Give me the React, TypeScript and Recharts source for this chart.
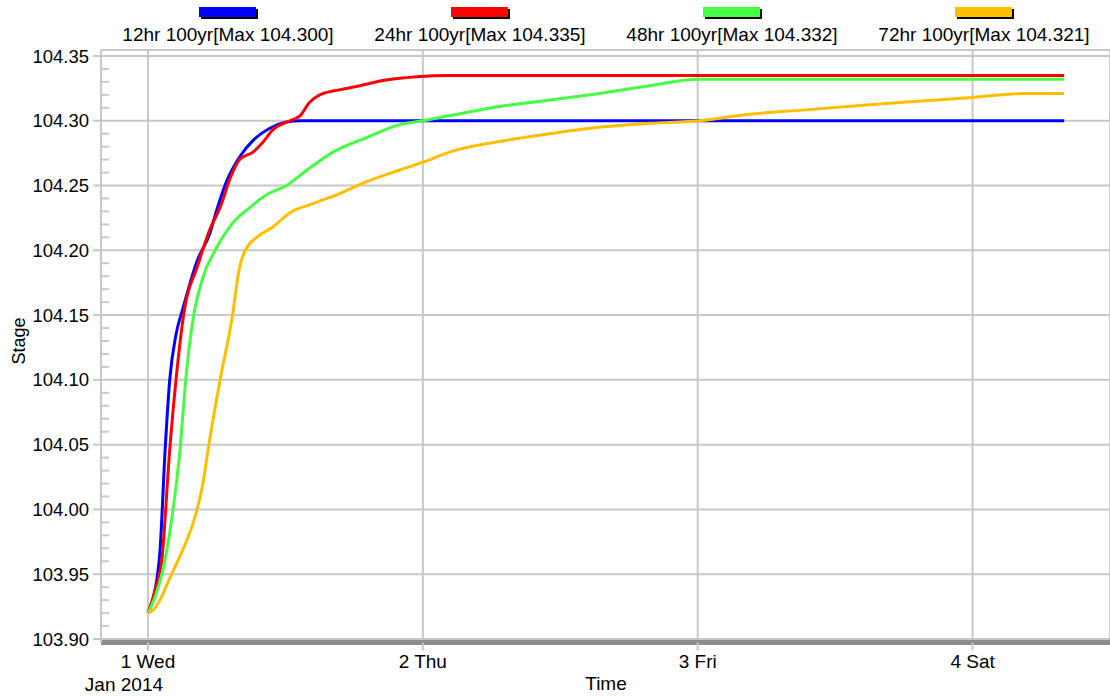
import React from 'react';
import { LineChart, Line, XAxis, YAxis, CartesianGrid, ReferenceLine } from 'recharts';

// hours since 1 Jan 2014 00:00
const BLUE_H = [0, 0.35, 0.6, 1.05, 1.5, 1.9, 2.45, 3.05, 4.3, 5.4, 6.0, 6.9, 8.0, 9.2, 10.6, 12.1, 13.3, 80];
const BLUE_V = [103.92, 103.928, 103.937, 103.968, 104.046, 104.1, 104.135, 104.155, 104.192, 104.213, 104.231, 104.254, 104.272, 104.285, 104.294, 104.299, 104.3, 104.3];

const RED_H = [0, 0.7, 1.2, 1.9, 2.45, 3.2, 4.3, 5.4, 6.3, 7.2, 8.0, 9.2, 10.0, 10.9, 12.4, 13.3, 14.1, 15.0, 16.8, 18.5, 20.5, 23.5, 26.1, 80];
const RED_V = [103.92, 103.94, 103.96, 104.046, 104.1, 104.155, 104.187, 104.216, 104.233, 104.256, 104.27, 104.276, 104.283, 104.293, 104.3, 104.304, 104.314, 104.32, 104.324, 104.327, 104.331, 104.334, 104.335, 104.335];

const GREEN_H = [0, 0.6, 1.3, 2.1, 2.8, 3.3, 4.0, 4.8, 6.0, 7.4, 8.9, 10.4, 12.1, 13.9, 16.2, 19.1, 22.0, 24.0, 26.4, 30.7, 35.1, 39.4, 43.8, 48.0, 80];
const GREEN_V = [103.92, 103.932, 103.953, 103.994, 104.046, 104.1, 104.15, 104.179, 104.202, 104.221, 104.233, 104.243, 104.25, 104.262, 104.276, 104.287, 104.297, 104.3, 104.304, 104.311, 104.316, 104.321, 104.327, 104.332, 104.332];

const ORANGE_H = [0, 0.4, 1.05, 1.9, 3.0, 4.1, 4.8, 5.25, 6.3, 7.35, 8.0, 8.5, 9.5, 10.9, 12.4, 14.4, 16.8, 19.1, 22.0, 24.0, 26.4, 30.7, 35.1, 39.4, 43.8, 48.2, 52.5, 56.9, 65.6, 72.0, 76.5, 80];
const ORANGE_V = [103.92, 103.922, 103.93, 103.947, 103.968, 103.994, 104.02, 104.046, 104.1, 104.148, 104.187, 104.2, 104.21, 104.218, 104.229, 104.236, 104.244, 104.253, 104.262, 104.268, 104.276, 104.284, 104.29, 104.295, 104.298, 104.3, 104.305, 104.308, 104.314, 104.318, 104.321, 104.321];

const SERIES_NAMES = ['12hr 100yr', '24hr 100yr', '48hr 100yr', '72hr 100yr'];
const SERIES_MAX = ['104.300', '104.335', '104.332', '104.321'];
const COLORS = ['#0000ff', '#ff0000', '#44ff44', '#ffbf00'];

const X_TICKS = [0, 24, 48, 72];
const X_LABELS = ['1 Wed', '2 Thu', '3 Fri', '4 Sat'];
const Y_TICKS = [103.9, 103.95, 104.0, 104.05, 104.1, 104.15, 104.2, 104.25, 104.3, 104.35];

const X_MIN = -4.1;
const X_MAX = 84;
const Y_MIN = 103.8973;
const Y_MAX = 104.3546;
const MINOR_TICKS = Array.from({ length: 45 }, (_, i) => +(103.9 + i * 0.01).toFixed(2)).filter(
  (v) => Math.round(v * 100) % 5 !== 0
);

const zip = (h: number[], v: number[]) => h.map((x, i) => ({ h: x, v: v[i] }));
const SERIES = [zip(BLUE_H, BLUE_V), zip(RED_H, RED_V), zip(GREEN_H, GREEN_V), zip(ORANGE_H, ORANGE_V)];

const FONT = '"Liberation Sans", Arial, sans-serif';
const GRID = '#c8c8c8';

const DayTick = (props: any) => {
  const { x, y, payload } = props;
  const i = X_TICKS.indexOf(payload.value);
  return (
    <g>
      <text x={x} y={y + 17} textAnchor="middle" fontSize={19} fontFamily={FONT} fill="#000">
        {X_LABELS[i]}
      </text>
      {i === 0 && (
        <text x={x - 24} y={y + 40} textAnchor="middle" fontSize={19} fontFamily={FONT} fill="#000">
          Jan 2014
        </text>
      )}
    </g>
  );
};

export default function App() {
  return (
    <div style={{ position: 'absolute', left: 0, top: 0, width: 1110, height: 696, background: '#fff', fontFamily: FONT }}>
      {SERIES_NAMES.map((name, i) => (
        <div key={name} style={{ position: 'absolute', left: 102 + i * 252, top: 0, width: 252, textAlign: 'center' }}>
          <div
            style={{
              position: 'absolute',
              left: 97,
              top: 7,
              width: 57,
              height: 10,
              background: COLORS[i],
              boxShadow: '2px 2px 0 #000',
            }}
          />
          <div style={{ position: 'absolute', left: 0, top: 25, width: 252, fontSize: 19, lineHeight: '20px', color: '#000', whiteSpace: 'nowrap' }}>
            {name}[Max {SERIES_MAX[i]}]
          </div>
        </div>
      ))}
      <div
        style={{
          position: 'absolute',
          left: 19,
          top: 341,
          transform: 'translate(-50%, -50%) rotate(-90deg)',
          fontSize: 18,
          color: '#000',
          whiteSpace: 'nowrap',
        }}
      >
        Stage
      </div>
      <div style={{ position: 'absolute', left: 606, top: 684, transform: 'translate(-50%, -50%)', fontSize: 19, color: '#000' }}>
        Time
      </div>
      <LineChart width={1110} height={696} margin={{ top: 50, right: 0, bottom: 0, left: 0 }} style={{ position: 'absolute', left: 0, top: 0 }}>
        <CartesianGrid stroke={GRID} strokeWidth={2} />
        <ReferenceLine y={Y_MAX} stroke={GRID} strokeWidth={2} />
        {MINOR_TICKS.map((v) => (
          <ReferenceLine
            key={v}
            segment={[{ x: X_MIN, y: v }, { x: X_MIN + 0.7, y: v }]}
            stroke={GRID}
            strokeWidth={2}
            ifOverflow="visible"
          />
        ))}
        <XAxis
          type="number"
          dataKey="h"
          domain={[X_MIN, X_MAX]}
          ticks={X_TICKS}
          allowDataOverflow
          height={53.5}
          tickSize={8}
          tickMargin={0}
          axisLine={{ stroke: '#8c8c8c', strokeWidth: 5 }}
          tickLine={{ stroke: GRID, strokeWidth: 2 }}
          tick={<DayTick />}
        />
        <YAxis
          type="number"
          domain={[Y_MIN, Y_MAX]}
          ticks={Y_TICKS}
          allowDataOverflow
          width={101}
          tickSize={8}
          tickMargin={4}
          axisLine={{ stroke: GRID, strokeWidth: 2 }}
          tickLine={{ stroke: GRID, strokeWidth: 2 }}
          tick={{ fill: '#000', fontSize: 18.5, fontFamily: FONT }}
          tickFormatter={(v: number) => v.toFixed(2)}
        />
        {SERIES.map((data, i) => (
          <Line
            key={SERIES_NAMES[i]}
            data={data}
            dataKey="v"
            type="monotone"
            stroke={COLORS[i]}
            strokeWidth={3}
            dot={false}
            activeDot={false}
            isAnimationActive={false}
          />
        ))}
      </LineChart>
    </div>
  );
}
